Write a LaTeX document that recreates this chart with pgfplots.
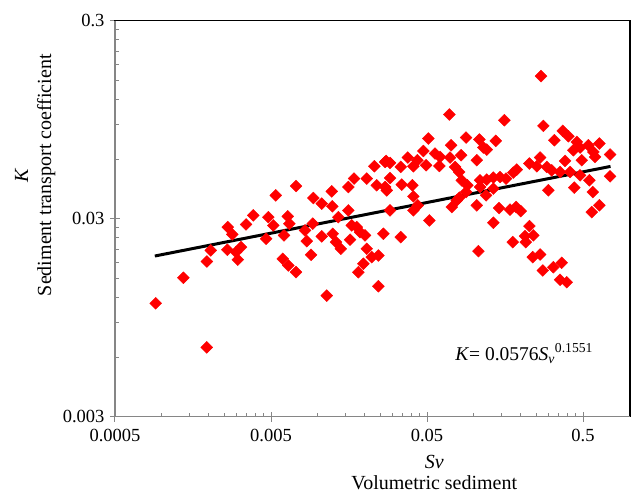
\documentclass[border=0pt]{standalone}
\usepackage{fontspec}
\setmainfont{Liberation Serif}
\usepackage{pgfplots}
\usepackage{pgfplotstable}
\pgfplotsset{compat=1.18}
\definecolor{axgray}{RGB}{134,134,134}
\pgfplotstableread{
x y
0.000912 0.01122
0.001371 0.0151
0.001936 0.00672
0.00194 0.01824
0.002055 0.02075
0.002642 0.02721
0.002825 0.02500
0.002624 0.02090
0.002985 0.02033
0.003213 0.02155
0.003062 0.01862
0.003459 0.02806
0.004648 0.02377
0.005176 0.02775
0.006060 0.02471
0.006555 0.02831
0.005944 0.01883
0.006457 0.01742
0.007232 0.01611
0.008472 0.02312
0.009027 0.01972
0.008263 0.02618
0.01057 0.02443
0.01243 0.02518
0.01305 0.02285
0.01400 0.02115
0.01606 0.02350
0.01646 0.02775
0.01861 0.02566
0.02003 0.02471
0.02054 0.02115
0.01953 0.01777
0.02212 0.01919
0.02438 0.01956
0.01815 0.01611
0.01138 0.01227
0.02438 0.01368
0.02624 0.02518
0.003852 0.03119
0.004808 0.03055
0.005362 0.03936
0.006401 0.03083
0.007232 0.04387
0.00934 0.03815
0.01057 0.03573
0.01225 0.04121
0.01236 0.03464
0.009259 0.02831
0.01351 0.03055
0.01566 0.04335
0.01703 0.04786
0.01566 0.03304
0.02054 0.04786
0.02298 0.05521
0.0238 0.04426
0.02692 0.05801
0.02759 0.04173
0.01772 0.02721
0.2691 0.1575
0.06953 0.1008
0.1566 0.0943
0.2784 0.0883
0.3708 0.08327
0.4027 0.07827
0.3275 0.07471
0.05099 0.07620
0.08897 0.0771
0.1083 0.07533
0.1379 0.07413
0.07129 0.07047
0.1148 0.06862
0.1208 0.06703
0.456 0.07326
0.4786 0.06862
0.541 0.07047
0.6364 0.07191
0.5823 0.06522
0.7454 0.06327
0.4335 0.06649
0.4907 0.05921
0.5971 0.06152
0.04738 0.06594
0.05628 0.06402
0.06061 0.06152
0.08265 0.06276
0.07025 0.0611
0.1042 0.05921
0.02731 0.05872
0.02897 0.05737
0.03763 0.0611
0.04335 0.05921
0.03393 0.05475
0.04088 0.05519
0.04929 0.05585
0.05998 0.05539
0.07562 0.05475
0.08021 0.05164
0.2652 0.0611
0.2265 0.05697
0.188 0.05309
0.1788 0.05129
0.2526 0.05519
0.2928 0.05475
0.315 0.05267
0.3836 0.05872
0.3562 0.05164
0.4128 0.05164
0.4786 0.04969
0.5491 0.04688
0.7454 0.04911
0.02897 0.04815
0.02692 0.04337
0.03443 0.04459
0.04027 0.04423
0.04088 0.03891
0.04361 0.03505
0.04088 0.03306
0.02897 0.03306
0.05176 0.02941
0.03393 0.02421
0.08351 0.04688
0.09069 0.04423
0.1094 0.04688
0.1208 0.04726
0.1331 0.04838
0.1469 0.04871
0.1606 0.04781
0.1094 0.04337
0.1331 0.04256
0.08897 0.04091
0.1195 0.03937
0.1042 0.03505
0.08057 0.03833
0.07755 0.03715
0.07204 0.03436
0.2997 0.04173
0.4398 0.04306
0.5773 0.04091
0.6364 0.03505
0.5689 0.0324
0.1448 0.03396
0.1331 0.02864
0.1703 0.03333
0.1861 0.03436
0.1994 0.03279
0.2265 0.02753
0.2126 0.0245
0.2402 0.02471
0.1772 0.02284
0.2148 0.02284
0.1067 0.02057
0.2380 0.01918
0.2652 0.01979
0.2760 0.01643
0.3227 0.01707
0.3652 0.01797
0.3562 0.01474
0.3933 0.01433
}\scatterdata
\begin{document}
\begin{tikzpicture}
\begin{axis}[
  xmode=log, ymode=log,
  scale only axis, width=515pt, height=396pt,
  xmin=0.0005, xmax=1, ymin=0.003, ymax=0.3,
  axis line style={black, line width=1.5pt},
  tick pos=left,
  tick align=center,
  major tick length=10pt,
  minor tick length=4pt,
  tick style={axgray, line width=1pt},
  minor x tick style={yshift=2pt},
  minor y tick style={xshift=2pt},
  xtick={0.0005,0.005,0.05,0.5},
  xticklabels={0.0005,0.005,0.05,0.5},
  ytick={0.003,0.03,0.3},
  yticklabels={0.003,0.03,0.3},
  minor xtick={0.001,0.0015,0.002,0.0025,0.003,0.0035,0.004,0.0045,0.01,0.015,0.02,0.025,0.03,0.035,0.04,0.045,0.1,0.15,0.2,0.25,0.3,0.35,0.4,0.45},
  minor ytick={0.006,0.009,0.012,0.015,0.018,0.021,0.024,0.027,0.06,0.09,0.12,0.15,0.18,0.21,0.24,0.27},
  ticklabel style={font=\fontsize{18.5}{20}\selectfont, black},
  /pgf/number format/assume math mode=true,
  xticklabel style={yshift=-4pt},
  yticklabel style={xshift=-2pt},
  xlabel={\textit{Sv}\\Volumetric sediment},
  ylabel={\textit{K}\\Sediment transport coefficient},
  xlabel style={at={(rel axis cs:0.62,-0.14)}, anchor=center, align=center, font=\fontsize{20}{21}\selectfont},
  ylabel style={at={(rel axis cs:-0.155,0.61)}, anchor=center, align=center, font=\fontsize{20}{23}\selectfont},
  clip=false,
]
\addplot[only marks, mark=square*, mark size=4.2pt, mark options={fill=red, draw=red, rotate=45}] table[x=x,y=y] {\scatterdata};
\addplot[black, line width=3pt] coordinates {(0.0009,0.01944) (0.75,0.0551)};
\draw[axgray, line width=1.5pt] (rel axis cs:0,1) -- (rel axis cs:0,0) -- (rel axis cs:1,0);
\node[anchor=base west, font=\fontsize{19.5}{21}\selectfont] at (rel axis cs:0.654,0.143) {\textit{K}= 0.0576\textit{S}\textsubscript{\textit{v}}\textsuperscript{0.1551}};
\end{axis}
\pgfresetboundingbox
\path[use as bounding box] ([shift={(-115pt,-75.3pt)}]current axis.south west) rectangle ([shift={(3pt,20.7pt)}]current axis.north east);
\end{tikzpicture}
\end{document}
